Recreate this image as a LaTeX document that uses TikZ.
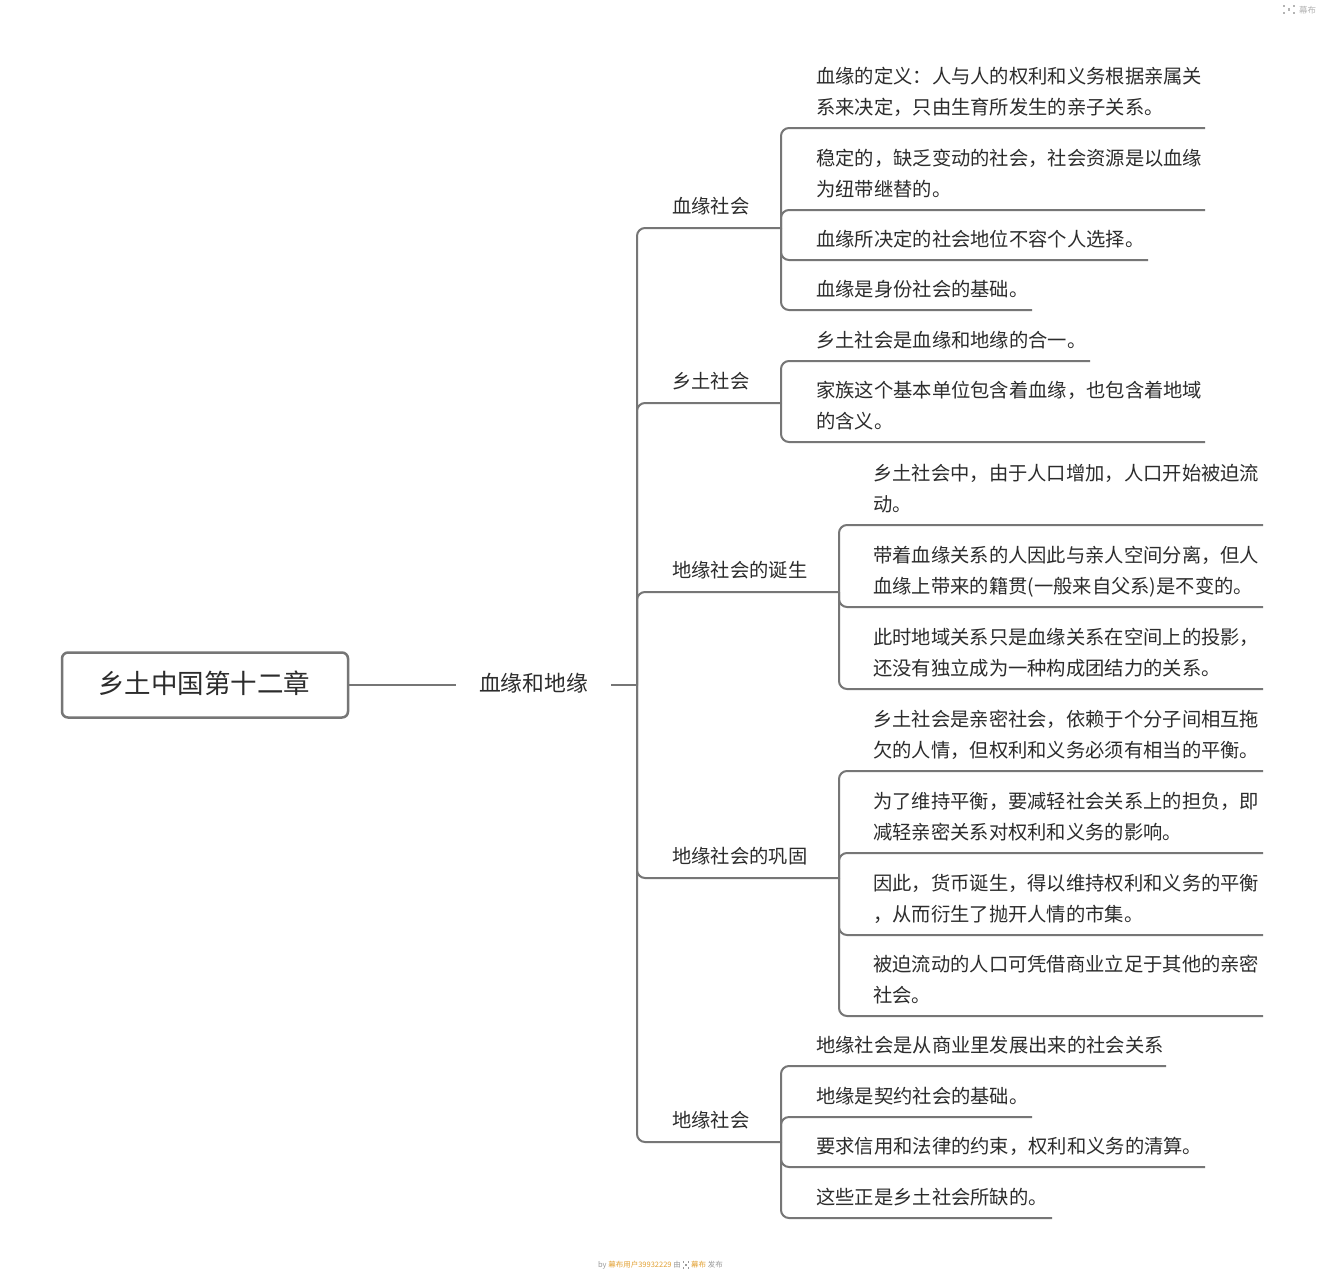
\documentclass[tikz,border=0pt]{standalone}
\usepackage{fontspec}
\setmainfont{Noto Sans CJK SC}
\definecolor{linegray}{HTML}{767676}
\definecolor{textdark}{HTML}{2C2C2C}
\definecolor{footgray}{HTML}{9A9A9A}
\definecolor{gold}{HTML}{E3A235}
\definecolor{logogray}{HTML}{B4B4B4}
\begin{document}
\begin{tikzpicture}[x=1pt,y=-1pt,
  conn/.style={draw=linegray,line width=2pt,rounded corners=8pt},
  topic/.style={anchor=base west,inner sep=0pt,align=left,text=textdark,font=\fontsize{19.3pt}{31pt}\selectfont},
  sub/.style={anchor=base west,inner sep=0pt,text=textdark,font=\fontsize{19.3pt}{23pt}\selectfont},
  dot/.style={fill=#1,inner sep=0pt,minimum size=2.2pt,draw=none,rectangle},
]
\useasboundingbox[fill=white] (0,0) rectangle (1325,1280);

% root and central topic
\node[draw=linegray,line width=2.5pt,rounded corners=6pt,minimum width=286pt,minimum height=65pt,inner sep=0pt] (root) at (205,685) {};
\node[font=\fontsize{26.5pt}{30pt}\selectfont,text=textdark,inner sep=0pt] (roott) at (204,683) {乡土中国第十二章};
\node[font=\fontsize{21.8pt}{26pt}\selectfont,text=textdark,inner xsep=23pt,inner ysep=0pt] (mid) at (533.5,683.5) {血缘和地缘};
\coordinate (t0) at (637,685);
\coordinate (m1) at (root.east -| mid.west);
\coordinate (m2) at (root.east -| mid.east);
\draw[conn] (root.east) -- (m1);
\draw[conn] (m2) -- (t0);

% ---------- group 1: 血缘社会
\node[sub] (b1) at (672,213) {血缘社会};
\coordinate (b1e) at (781,228);
\draw[conn] (t0) |- (b1e);
\node[topic] (c11) at (816,114) {血缘的定义：人与人的权利和义务根据亲属关\\系来决定，只由生育所发生的亲子关系。};
\coordinate (c11e) at (1205,128);
\draw[conn] (b1e) |- (c11e);
\node[topic] (c12) at (816,196) {稳定的，缺乏变动的社会，社会资源是以血缘\\为纽带继替的。};
\coordinate (c12e) at (1205,210);
\draw[conn] (b1e) |- (c12e);
\node[topic] (c13) at (816,246) {血缘所决定的社会地位不容个人选择。};
\coordinate (c13e) at (1148,260);
\draw[conn] (b1e) |- (c13e);
\node[topic] (c14) at (816,296) {血缘是身份社会的基础。};
\coordinate (c14e) at (1032,310);
\draw[conn] (b1e) |- (c14e);

% ---------- group 2: 乡土社会
\node[sub] (b2) at (672,388) {乡土社会};
\coordinate (b2e) at (781,403);
\draw[conn] (t0) |- (b2e);
\node[topic] (c21) at (816,347) {乡土社会是血缘和地缘的合一。};
\coordinate (c21e) at (1090,361);
\draw[conn] (b2e) |- (c21e);
\node[topic] (c22) at (816,428) {家族这个基本单位包含着血缘，也包含着地域\\的含义。};
\coordinate (c22e) at (1205,442);
\draw[conn] (b2e) |- (c22e);

% ---------- group 3: 地缘社会的诞生
\node[sub] (b3) at (672,577) {地缘社会的诞生};
\coordinate (b3e) at (839,592);
\draw[conn] (t0) |- (b3e);
\node[topic] (c31) at (873,511) {乡土社会中，由于人口增加，人口开始被迫流\\动。};
\coordinate (c31e) at (1263,525);
\draw[conn] (b3e) |- (c31e);
\node[topic] (c32) at (873,593) {带着血缘关系的人因此与亲人空间分离，但人\\血缘上带来的籍贯(一般来自父系)是不变的。};
\coordinate (c32e) at (1263,607);
\draw[conn] (b3e) |- (c32e);
\node[topic] (c33) at (873,675) {此时地域关系只是血缘关系在空间上的投影，\\还没有独立成为一种构成团结力的关系。};
\coordinate (c33e) at (1263,689);
\draw[conn] (b3e) |- (c33e);

% ---------- group 4: 地缘社会的巩固
\node[sub] (b4) at (672,863) {地缘社会的巩固};
\coordinate (b4e) at (839,878);
\draw[conn] (t0) |- (b4e);
\node[topic] (c41) at (873,757) {乡土社会是亲密社会，依赖于个分子间相互拖\\欠的人情，但权利和义务必须有相当的平衡。};
\coordinate (c41e) at (1263,771);
\draw[conn] (b4e) |- (c41e);
\node[topic] (c42) at (873,839) {为了维持平衡，要减轻社会关系上的担负，即\\减轻亲密关系对权利和义务的影响。};
\coordinate (c42e) at (1263,853);
\draw[conn] (b4e) |- (c42e);
\node[topic] (c43) at (873,921) {因此，货币诞生，得以维持权利和义务的平衡\\，从而衍生了抛开人情的市集。};
\coordinate (c43e) at (1263,935);
\draw[conn] (b4e) |- (c43e);
\node[topic] (c44) at (873,1002) {被迫流动的人口可凭借商业立足于其他的亲密\\社会。};
\coordinate (c44e) at (1263,1016);
\draw[conn] (b4e) |- (c44e);

% ---------- group 5: 地缘社会
\node[sub] (b5) at (672,1127) {地缘社会};
\coordinate (b5e) at (781,1142);
\draw[conn] (t0) |- (b5e);
\node[topic] (c51) at (816,1052) {地缘社会是从商业里发展出来的社会关系};
\coordinate (c51e) at (1166,1066);
\draw[conn] (b5e) |- (c51e);
\node[topic] (c52) at (816,1103) {地缘是契约社会的基础。};
\coordinate (c52e) at (1032,1117);
\draw[conn] (b5e) |- (c52e);
\node[topic] (c53) at (816,1153) {要求信用和法律的约束，权利和义务的清算。};
\coordinate (c53e) at (1205,1167);
\draw[conn] (b5e) |- (c53e);
\node[topic] (c54) at (816,1204) {这些正是乡土社会所缺的。};
\coordinate (c54e) at (1052,1218);
\draw[conn] (b5e) |- (c54e);

% ---------- top-right logo
\foreach \px/\py [count=\i] in {1284/6,1284/13,1294/6,1294/13,1289/9.5}
  \node[dot=logogray] (lg\i) at (\px,\py) {};
\node[anchor=west,inner sep=0pt,text=logogray,font=\fontsize{8.5pt}{10pt}\selectfont] (lgt) at (1299,10) {幕布};

% ---------- footer
\node[anchor=east,inner sep=0pt,font=\fontsize{7.5pt}{9pt}\selectfont] (f1) at (681,1265)
  {\textcolor{footgray}{by}\ \textcolor{gold}{幕布用户39932229}\ \textcolor{footgray}{由}};
\foreach \px/\py [count=\i] in {683.5/1262,683.5/1268,688.5/1262,688.5/1268,686/1265}
  \node[dot=footgray,minimum size=1.6pt] (fd\i) at (\px,\py) {};
\node[anchor=west,inner sep=0pt,font=\fontsize{7.5pt}{9pt}\selectfont] (f2) at (691,1265)
  {\textcolor{gold}{幕布}\ \textcolor{footgray}{发布}};
\end{tikzpicture}
\end{document}
